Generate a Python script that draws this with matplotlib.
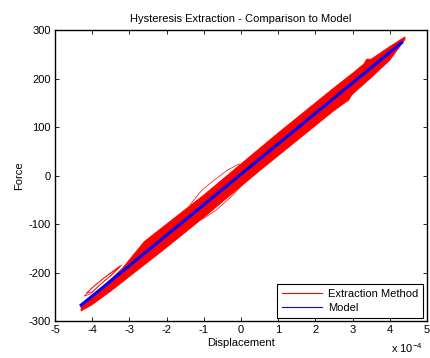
import numpy as np
import matplotlib
matplotlib.use("Agg")
import matplotlib.pyplot as plt
from matplotlib.lines import Line2D
from matplotlib.ticker import FuncFormatter

plt.rcParams['font.family'] = ['Liberation Sans', 'DejaVu Sans']
plt.rcParams['font.size'] = 8
plt.rcParams['axes.unicode_minus'] = False
plt.rcParams['mathtext.fontset'] = 'custom'
plt.rcParams['mathtext.rm'] = 'Liberation Sans'

SCALE = 1e-4  # displacement values below are in units of 1e-4

# extraction method - envelope of the measured loops (upper / lower edge)
band_upper_x = [-4.30, -4.0, -3.5, -3.2, -2.9, -2.75, -2.6, -2.0, -1.5, -1.0, -0.5, 0.0,
                0.5, 1.0, 1.5, 2.0, 2.5, 3.0, 3.3, 3.38, 3.5, 4.0, 4.41]
band_upper_f = [-270, -248, -214, -192, -164, -150, -136, -100, -70, -40, -8, 24,
                56, 88, 119, 150, 181, 211, 230, 240, 240, 266, 286]
band_lower_x = [-4.30, -4.0, -3.5, -3.0, -2.5, -2.0, -1.5, -1.0, -0.5, 0.0,
                0.5, 1.0, 1.5, 2.0, 2.5, 2.9, 2.95, 3.0, 3.5, 4.0, 4.41]
band_lower_f = [-279, -266, -238, -208, -178, -148, -117, -86, -54, -22,
                10, 41, 72, 103, 134, 156, 163, 168, 202, 238, 281]

# individual thin loops sticking out of the band
loop_mid_x = [-1.55, -1.35, -1.05, -0.7, -0.35, -0.05, 0.2, 0.05, -0.3, -0.65, -1.0, -1.35, -1.55]
loop_mid_f = [-92, -58, -30, -8, 12, 24, 14, -18, -46, -70, -88, -98, -92]
loop_low_x = [-4.20, -4.05, -3.8, -3.5, -3.25, -3.5, -3.8, -4.05, -4.20]
loop_low_f = [-248, -234, -218, -200, -186, -206, -226, -244, -248]
loop_low2_x = [-4.15, -3.95, -3.7, -3.4, -3.2, -3.45, -3.75, -4.0, -4.15]
loop_low2_f = [-242, -228, -212, -196, -184, -203, -222, -240, -242]

# model
model_x = [-4.33, 4.35]
model_f = [-269, 276]

fig = plt.figure(figsize=(4.30, 3.58), dpi=100)
ax = fig.add_axes([0.128, 0.103, 0.865, 0.813])

poly_x = np.array(band_upper_x + band_lower_x[::-1]) * SCALE
poly_f = np.array(band_upper_f + band_lower_f[::-1])
ax.fill(poly_x, poly_f, color='red', lw=0.6, ec='red')
for lx, lf in [(loop_mid_x, loop_mid_f), (loop_low_x, loop_low_f), (loop_low2_x, loop_low2_f)]:
    ax.plot(np.array(lx) * SCALE, lf, color='red', lw=0.5)

ax.plot(np.array(model_x) * SCALE, model_f, color='blue', lw=2.2, solid_capstyle='butt')

ax.set_xlim(-5 * SCALE, 5 * SCALE)
ax.set_ylim(-300, 300)
ax.set_xticks(np.arange(-5, 6) * SCALE)
ax.set_yticks(np.arange(-300, 301, 100))
ax.xaxis.set_major_formatter(FuncFormatter(lambda v, p: '%d' % round(v / SCALE)))
ax.tick_params(direction='in', length=3, width=0.6, top=True, right=True, pad=3)
for s in ax.spines.values():
    s.set_linewidth(1.0)

ax.set_title('Hysteresis Extraction - Comparison to Model', fontsize=8, pad=6)
ax.set_xlabel('Displacement', labelpad=2)
ax.set_ylabel('Force', labelpad=3)
ax.text(0.99, -0.07, r'x 10$^{-4}$', transform=ax.transAxes, ha='right', va='top', fontsize=8)

handles = [Line2D([], [], color='red', lw=0.8), Line2D([], [], color='blue', lw=0.8)]
leg = ax.legend(handles, ['Extraction Method', 'Model'], loc='lower right',
                bbox_to_anchor=(0.99, 0.01), borderaxespad=0, fancybox=False,
                framealpha=1, edgecolor='black', handlelength=3.6, handletextpad=0.5,
                borderpad=0.45, labelspacing=0.35)
leg.get_frame().set_linewidth(0.8)

fig.savefig('out.png', dpi=100)
